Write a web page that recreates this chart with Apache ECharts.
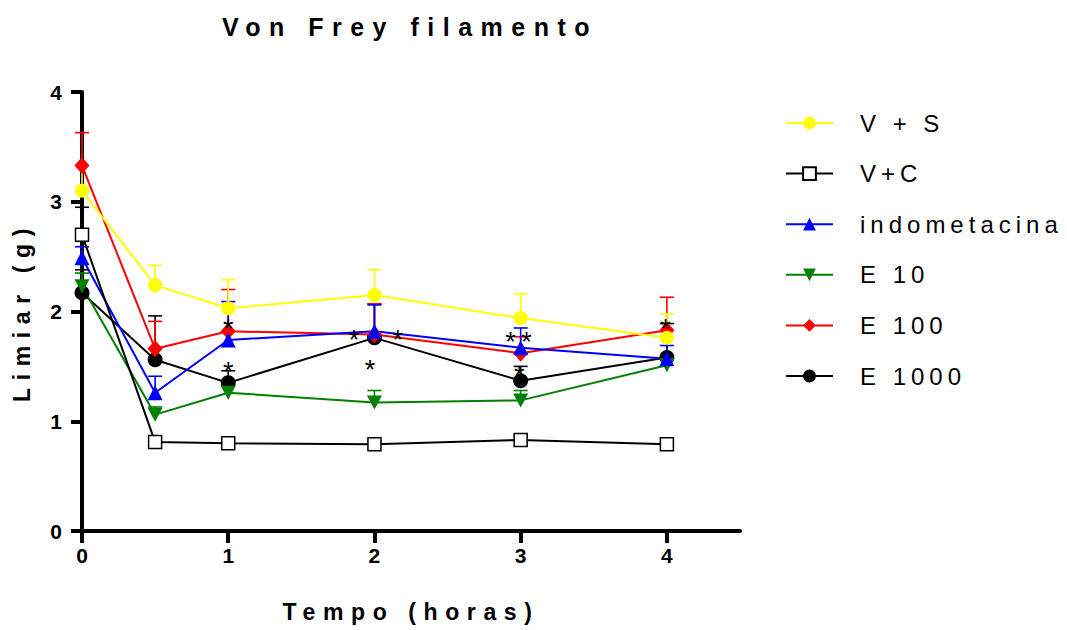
<!DOCTYPE html>
<html>
<head>
<meta charset="utf-8">
<title>Von Frey filamento</title>
<script src="https://cdn.jsdelivr.net/npm/echarts@6/dist/echarts.min.js"></script>
<style>
  html, body { margin: 0; padding: 0; background: #fff; }
  #chart { width: 1067px; height: 630px; }
  /* wide tracking on the title, axis names and legend labels */
  #chart text[style*="25px"] { letter-spacing: 8.5px; }
  #chart text[style*="23px"] { letter-spacing: 7.6px; }
  #chart text[style*="24px"] { letter-spacing: 5px; }
</style>
</head>
<body>
<div id="chart"></div>
<script>
// Sampling times (hours)
const times = [0, 0.5, 1, 2, 3, 4];

// Group names, in legend order
const groupNames = ['V + S', 'V+C', 'indometacina', 'E 10', 'E 100', 'E 1000'];

// Mean withdrawal threshold (g) per group
const vsMean    = [3.10, 2.24, 2.03, 2.15, 1.94, 1.76];
const vcMean    = [2.70, 0.81, 0.80, 0.79, 0.83, 0.79];
const indoMean  = [2.49, 1.26, 1.74, 1.82, 1.67, 1.57];
const e10Mean   = [2.23, 1.06, 1.26, 1.17, 1.19, 1.51];
const e100Mean  = [3.33, 1.66, 1.82, 1.79, 1.62, 1.83];
const e1000Mean = [2.17, 1.56, 1.35, 1.76, 1.37, 1.58];

// Standard error (upper bar only)
const vsSem    = [0.23, 0.18, 0.26, 0.23, 0.22, 0.22];
const vcSem    = [0.25, 0.05, 0.03, 0.03, 0.04, 0.03];
const indoSem  = [0.10, 0.15, 0.35, 0.24, 0.18, 0.12];
const e10Sem   = [0.12, 0.07, 0.06, 0.11, 0.09, 0.05];
const e100Sem  = [0.30, 0.25, 0.38, 0.28, 0.15, 0.30];
const e1000Sem = [0.21, 0.40, 0.11, 0.31, 0.13, 0.31];

// Significance markers: [time, threshold]
const starMarks = [
  [1.00, 1.90], [1.00, 1.51],
  [1.86, 1.80], [2.16, 1.80], [1.97, 1.53],
  [2.93, 1.78], [3.04, 1.78], [2.99, 1.47],
  [3.99, 1.90]
];

// Axis tick values
const xTicks = [0, 1, 2, 3, 4];

const FONT = 'Liberation Sans';

const groups = [
  { name: groupNames[0], mean: vsMean,    sem: vsSem,    color: '#FFFF00', symbol: 'circle', size: 14 },
  { name: groupNames[1], mean: vcMean,    sem: vcSem,    color: '#000000', symbol: 'rect',   size: 13, hollow: true },
  { name: groupNames[2], mean: indoMean,  sem: indoSem,  color: '#0000FF', symbol: 'triangle', size: 15 },
  { name: groupNames[3], mean: e10Mean,   sem: e10Sem,   color: '#008000', symbol: 'path://M0,0L10,0L5,9Z', size: [15, 14] },
  { name: groupNames[4], mean: e100Mean,  sem: e100Sem,  color: '#FF0000', symbol: 'diamond', size: [15, 17] },
  { name: groupNames[5], mean: e1000Mean, sem: e1000Sem, color: '#000000', symbol: 'circle', size: 15 }
];

function pairs(ys) { return times.map((t, i) => [t, ys[i]]); }

const series = [];

// error bars underneath everything
groups.slice().reverse().forEach(g => {
  series.push({
    type: 'custom',
    id: 'err-' + g.name,
    z: 1,
    silent: true,
    clip: false,
    encode: { x: 0, y: 1 },
    data: times.map((t, i) => [t, g.mean[i], g.sem[i]]),
    renderItem: function (params, api) {
      const x = api.value(0), m = api.value(1), s = api.value(2);
      const p0 = api.coord([x, m]);
      const p1 = api.coord([x, m + s]);
      const st = { stroke: g.color, lineWidth: 1.6 };
      return {
        type: 'group',
        children: [
          { type: 'line', shape: { x1: p0[0], y1: p0[1], x2: p1[0], y2: p1[1] }, style: st },
          { type: 'line', shape: { x1: p1[0] - 7, y1: p1[1], x2: p1[0] + 7, y2: p1[1] }, style: st }
        ]
      };
    }
  });
});

// mean lines; the first group is drawn last so it sits on top
groups.slice().reverse().forEach(g => {
  series.push({
    type: 'line',
    name: g.name,
    z: 3,
    clip: false,
    data: pairs(g.mean),
    symbol: g.symbol,
    symbolSize: g.size,
    showAllSymbol: true,
    lineStyle: { color: g.color, width: 2 },
    itemStyle: g.hollow
      ? { color: '#FFFFFF', borderColor: g.color, borderWidth: 1.5 }
      : { color: g.color, borderWidth: 0 },
    emphasis: { disabled: true }
  });
});

// asterisks
series.push({
  type: 'custom',
  id: 'stars',
  z: 4,
  silent: true,
  clip: false,
  encode: { x: 0, y: 1 },
  data: starMarks,
  renderItem: function (params, api) {
    const p = api.coord([api.value(0), api.value(1)]);
    return {
      type: 'text',
      x: p[0],
      y: p[1] + 6.5,
      style: {
        text: '*',
        fill: '#000',
        font: 'normal 27px "' + FONT + '"',
        align: 'center',
        verticalAlign: 'middle'
      }
    };
  }
});

const chart = echarts.init(document.getElementById('chart'), null, { renderer: 'svg' });

chart.setOption({
  animation: false,
  backgroundColor: '#ffffff',
  title: {
    text: 'Von Frey filamento',
    left: 410,
    top: 14,
    padding: 0,
    textAlign: 'center',
    textStyle: { fontFamily: FONT, fontSize: 25, fontWeight: 'bold', color: '#000' }
  },
  legend: {
    data: groupNames,
    orient: 'vertical',
    left: 785,
    top: 111,
    padding: 0,
    itemWidth: 47,
    itemHeight: 16,
    itemGap: 26.6,
    selectedMode: false,
    textStyle: {
      fontFamily: FONT, fontSize: 24, color: '#000',
      lineHeight: 24, padding: [0, 0, 0, 22]
    }
  },
  grid: {
    left: 82, right: 327, top: 92, bottom: 99,
    containLabel: false,
    outerBoundsMode: 'none'
  },
  xAxis: {
    type: 'value',
    min: 0,
    max: 4.5,
    interval: 1,
    name: 'Tempo (horas)',
    nameLocation: 'middle',
    nameGap: 69,
    nameTextStyle: { fontFamily: FONT, fontSize: 23, fontWeight: 'bold', color: '#000' },
    axisLine: { show: true, onZero: false, lineStyle: { color: '#000', width: 4 } },
    axisTick: { show: true, length: 12, lineStyle: { color: '#000', width: 4 }, customValues: xTicks },
    axisLabel: {
      margin: 14, customValues: xTicks,
      fontFamily: FONT, fontSize: 21, fontWeight: 'bold', color: '#000'
    },
    splitLine: { show: false }
  },
  yAxis: {
    type: 'value',
    min: 0,
    max: 4,
    interval: 1,
    name: 'Limiar (g)',
    nameLocation: 'middle',
    nameGap: 49,
    nameTextStyle: { fontFamily: FONT, fontSize: 23, fontWeight: 'bold', color: '#000' },
    axisLine: { show: true, onZero: false, lineStyle: { color: '#000', width: 4 } },
    axisTick: { show: true, length: 11, lineStyle: { color: '#000', width: 4 } },
    axisLabel: {
      margin: 20,
      fontFamily: FONT, fontSize: 21, fontWeight: 'bold', color: '#000'
    },
    splitLine: { show: false }
  },
  series: series
});
</script>
</body>
</html>
